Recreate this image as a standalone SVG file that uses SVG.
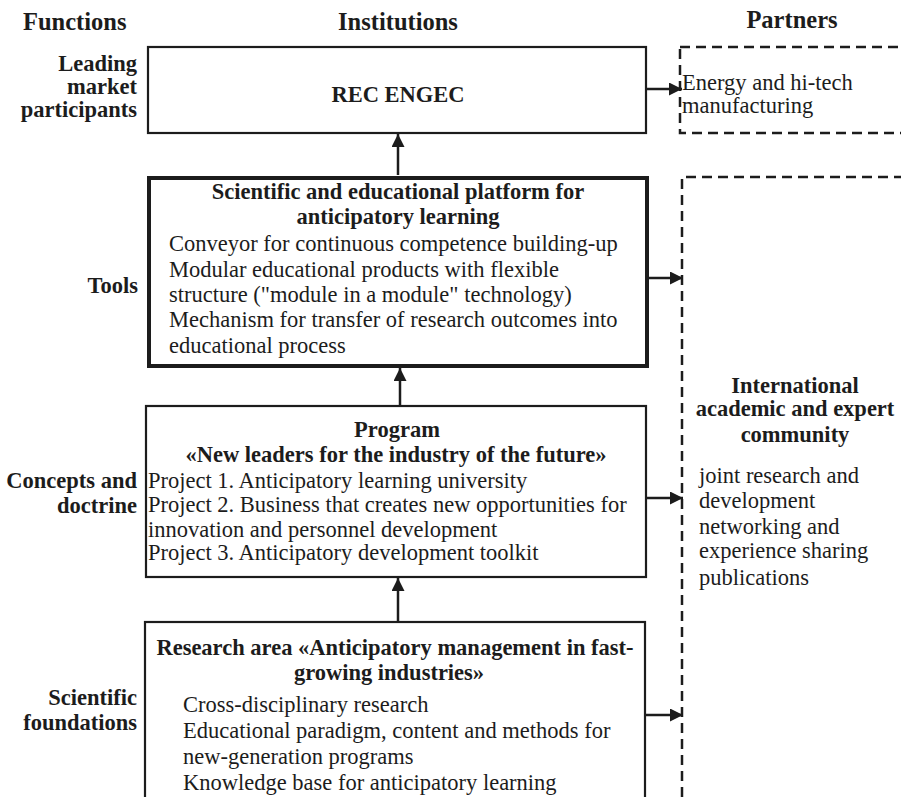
<svg xmlns="http://www.w3.org/2000/svg" width="901" height="797" viewBox="0 0 901 797">
<defs>
<style>
text{font-family:'Liberation Serif','Times New Roman',serif;fill:#1c1c1c;font-size:22.5px}
.h{font-weight:bold;font-size:24.5px}
.b{font-weight:bold}
.c{text-anchor:middle}
.r{text-anchor:end}
.box{fill:#fff;stroke:#1c1c1c;stroke-width:2.2}
.dash{fill:none;stroke:#1c1c1c;stroke-width:2.5;stroke-dasharray:10 6}
.conn{stroke:#1c1c1c;stroke-width:2.5;fill:none}
</style>
<marker id="ah" viewBox="0 0 10 10" refX="10" refY="5" markerWidth="14" markerHeight="13" markerUnits="userSpaceOnUse" orient="auto">
<path d="M0,0 L10,5 L0,10 Z" fill="#1c1c1c"/>
</marker>
</defs>
<rect width="901" height="797" fill="#fff"/>

<g id="headers">
<text class="h" x="23" y="30">Functions</text>
<text class="h c" x="398" y="30">Institutions</text>
<text class="h c" x="792" y="28">Partners</text>
</g>

<g id="functions">
<text class="b r" x="137" y="71">Leading</text>
<text class="b r" x="137" y="94">market</text>
<text class="b r" x="137" y="117">participants</text>
<text class="b r" x="138" y="293">Tools</text>
<text class="b r" x="137" y="488">Concepts and</text>
<text class="b r" x="137" y="513">doctrine</text>
<text class="b r" x="137" y="705">Scientific</text>
<text class="b r" x="137" y="730">foundations</text>
</g>

<g id="rec-engec">
<rect class="box" x="148" y="47" width="498" height="86"/>
<text class="b c" x="398" y="102">REC ENGEC</text>
</g>

<g id="platform">
<rect class="box" x="149" y="178" width="498" height="188" style="stroke-width:4"/>
<text class="b c" x="398" y="199">Scientific and educational platform for</text>
<text class="b c" x="398" y="224">anticipatory learning</text>
<text x="169" y="251">Conveyor for continuous competence building-up</text>
<text x="169" y="277">Modular educational products with flexible</text>
<text x="169" y="302">structure ("module in a module" technology)</text>
<text x="169" y="327">Mechanism for transfer of research outcomes into</text>
<text x="169" y="353">educational process</text>
</g>

<g id="program">
<rect class="box" x="146" y="406" width="500" height="171"/>
<text class="b c" x="397" y="437">Program</text>
<text class="b c" x="396" y="462">«New leaders for the industry of the future»</text>
<text x="148" y="488">Project 1. Anticipatory learning university</text>
<text x="148" y="512">Project 2. Business that creates new opportunities for</text>
<text x="148" y="537">innovation and personnel development</text>
<text x="148" y="560">Project 3. Anticipatory development toolkit</text>
</g>

<g id="research-area">
<rect class="box" x="145" y="622" width="500" height="200"/>
<text class="b c" x="395" y="655">Research area «Anticipatory management in fast-</text>
<text class="b c" x="389" y="680">growing industries»</text>
<text x="183" y="712">Cross-disciplinary research</text>
<text x="183" y="738">Educational paradigm, content and methods for</text>
<text x="183" y="764">new-generation programs</text>
<text x="183" y="790">Knowledge base for anticipatory learning</text>
</g>

<g id="partner-industry">
<rect class="dash" x="680" y="47" width="240" height="86"/>
<text x="682" y="90">Energy and hi-tech</text>
<text x="682" y="113">manufacturing</text>
</g>

<g id="partner-community">
<path class="dash" d="M920,177 H682 V810"/>
<text class="b c" x="795" y="393">International</text>
<text class="b c" x="795" y="416">academic and expert</text>
<text class="b c" x="795" y="442">community</text>
<text x="699" y="483">joint research and</text>
<text x="699" y="508">development</text>
<text x="699" y="534">networking and</text>
<text x="699" y="558">experience sharing</text>
<text x="699" y="585">publications</text>
</g>

<g id="connectors">
<line class="conn" x1="398" y1="175" x2="398" y2="134" marker-end="url(#ah)"/>
<line class="conn" x1="400" y1="406" x2="400" y2="368" marker-end="url(#ah)"/>
<line class="conn" x1="398" y1="622" x2="398" y2="578" marker-end="url(#ah)"/>
<line class="conn" x1="646" y1="89" x2="682" y2="89" marker-end="url(#ah)"/>
<line class="conn" x1="648" y1="278" x2="683" y2="278" marker-end="url(#ah)"/>
<line class="conn" x1="646" y1="498" x2="683" y2="498" marker-end="url(#ah)"/>
<line class="conn" x1="645" y1="715" x2="683" y2="715" marker-end="url(#ah)"/>
</g>
</svg>
